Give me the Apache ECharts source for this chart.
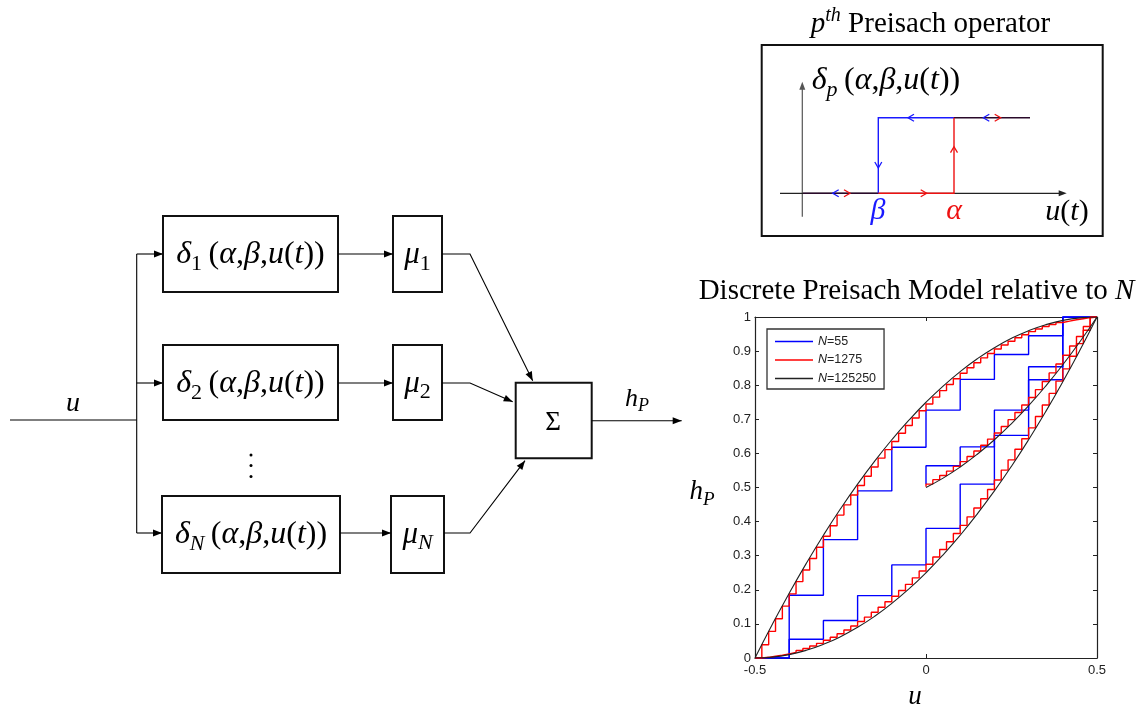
<!DOCTYPE html>
<html lang="en">
<head>
    <meta charset="UTF-8">
    <title>Discrete Preisach model</title>
    <script src="https://cdn.jsdelivr.net/npm/echarts@6.0.0/dist/echarts.min.js"></script>
    <style>
        body { margin: 0; background: #fff; }
        #main { width: 1140px; height: 714px; }
    </style>
</head>
<body>
<div id="main"></div>
<script>
    // ---- data ----
    // N=55 (10 levels): value on each interval [u_i, u_i+1], last value repeated to close the step
    var uBlue = [-0.5, -0.4, -0.3, -0.2, -0.1, 0, 0.1, 0.2, 0.3, 0.4, 0.5];
    var blueUp = [0, 0.055, 0.11, 0.183, 0.273, 0.38, 0.51, 0.653, 0.816, 1.0, 1.0];
    var blueDown = [0, 0.184, 0.347, 0.49, 0.618, 0.727, 0.817, 0.89, 0.945, 1.0, 1.0];
    var uBlueIn = [0, 0, 0.1, 0.2, 0.3, 0.4, 0.5];
    var blueIn = [0.51, 0.564, 0.619, 0.727, 0.854, 1.0, 1.0];

    // N=1275 (50 levels)
    var uRed = [-0.5, -0.48, -0.46, -0.44, -0.42, -0.4, -0.38, -0.36, -0.34, -0.32,
        -0.3, -0.28, -0.26, -0.24, -0.22, -0.2, -0.18, -0.16, -0.14, -0.12,
        -0.1, -0.08, -0.06, -0.04, -0.02, 0, 0.02, 0.04, 0.06, 0.08,
        0.1, 0.12, 0.14, 0.16, 0.18, 0.2, 0.22, 0.24, 0.26, 0.28,
        0.3, 0.32, 0.34, 0.36, 0.38, 0.4, 0.42, 0.44, 0.46, 0.48, 0.5];
    var redUp = [0, 0.002, 0.005, 0.008, 0.012, 0.016, 0.022, 0.028, 0.035, 0.043,
        0.052, 0.061, 0.071, 0.082, 0.094, 0.107, 0.120, 0.134, 0.149, 0.165,
        0.181, 0.198, 0.216, 0.235, 0.255, 0.275, 0.296, 0.318, 0.341, 0.365,
        0.389, 0.414, 0.440, 0.467, 0.494, 0.522, 0.551, 0.581, 0.612, 0.643,
        0.675, 0.708, 0.742, 0.776, 0.812, 0.848, 0.885, 0.922, 0.961, 1.0, 1.0];
    var redDown = [0, 0.039, 0.078, 0.115, 0.152, 0.188, 0.224, 0.258, 0.292, 0.325,
        0.357, 0.388, 0.419, 0.449, 0.478, 0.506, 0.533, 0.560, 0.586, 0.611,
        0.635, 0.659, 0.682, 0.704, 0.725, 0.745, 0.765, 0.784, 0.802, 0.819,
        0.835, 0.851, 0.866, 0.880, 0.893, 0.906, 0.918, 0.929, 0.939, 0.948,
        0.957, 0.965, 0.972, 0.978, 0.984, 0.988, 0.992, 0.995, 0.998, 1.0, 1.0];
    var uRedIn = [0, 0, 0.02, 0.04, 0.06, 0.08, 0.1, 0.12, 0.14, 0.16, 0.18, 0.2, 0.22,
        0.24, 0.26, 0.28, 0.3, 0.32, 0.34, 0.36, 0.38, 0.4, 0.42, 0.44, 0.46, 0.48, 0.5];
    var redIn = [0.502, 0.51, 0.523, 0.535, 0.548, 0.562, 0.576, 0.591, 0.607, 0.624,
        0.642, 0.660, 0.679, 0.699, 0.720, 0.742, 0.764, 0.787, 0.811, 0.836,
        0.862, 0.888, 0.915, 0.943, 0.972, 1.0, 1.0];

    // N=125250 (practically smooth)
    var uBlack = [-0.5, -0.45, -0.4, -0.35, -0.3, -0.25, -0.2, -0.15, -0.1, -0.05, 0,
        0.05, 0.1, 0.15, 0.2, 0.25, 0.3, 0.35, 0.4, 0.45, 0.5];
    var blackUp = [0, 0.0025, 0.01, 0.0225, 0.04, 0.0625, 0.09, 0.1225, 0.16, 0.2025, 0.25,
        0.3025, 0.36, 0.4225, 0.49, 0.5625, 0.64, 0.7225, 0.81, 0.9025, 1.0];
    var blackDown = [0, 0.0975, 0.19, 0.2775, 0.36, 0.4375, 0.51, 0.5775, 0.64, 0.6975, 0.75,
        0.7975, 0.84, 0.8775, 0.91, 0.9375, 0.96, 0.9775, 0.99, 0.9975, 1.0];
    var uBlackIn = [0, 0.05, 0.1, 0.15, 0.2, 0.25, 0.3, 0.35, 0.4, 0.45, 0.5];
    var blackIn = [0.5, 0.5275, 0.56, 0.5975, 0.64, 0.6875, 0.74, 0.7975, 0.86, 0.9275, 1.0];

    var legendNames = ['N=55', 'N=1275', 'N=125250'];
    var xTicks = {min: -0.5, max: 0.5, interval: 0.5};
    var yTicks = {min: 0, max: 1, interval: 0.1};

    // ---- helpers for the drawing parts ----
    function pair(us, vs) {
        return us.map(function (u, i) { return [u, vs[i]]; });
    }

    var ctx = document.createElement('canvas').getContext('2d');
    var SERIF = '"Liberation Serif", "Times New Roman", serif';

    // parts: [text, kind]  kind: r / i / sub / subi / supi
    function mathText(x, base, parts, size, color, anchor) {
        var items = [], total = 0;
        parts.forEach(function (p) {
            var k = p[1];
            var small = k.indexOf('sub') === 0 || k.indexOf('sup') === 0;
            var s = small ? Math.round(size * 0.7) : size;
            var ital = (k === 'i' || k === 'subi' || k === 'supi');
            var f = (ital ? 'italic ' : '') + s + 'px ' + SERIF;
            ctx.font = f;
            var w = ctx.measureText(p[0]).width;
            var dy = k.indexOf('sub') === 0 ? size * 0.2 : (k.indexOf('sup') === 0 ? -size * 0.4 : 0);
            items.push({t: p[0], f: f, w: w, dy: dy, s: s});
            total += w;
        });
        var cx = anchor === 'left' ? x : x - total / 2;
        return items.map(function (it) {
            var el = {
                type: 'text', x: cx, y: base + it.dy - 0.3 * it.s, silent: true,
                style: {text: it.t, font: it.f, fill: color || '#000', align: 'left', verticalAlign: 'middle'}
            };
            cx += it.w;
            return el;
        });
    }

    function seg(x1, y1, x2, y2, w, c) {
        return {type: 'line', silent: true, shape: {x1: x1, y1: y1, x2: x2, y2: y2},
            style: {stroke: c || '#000', lineWidth: w || 1.2}};
    }

    function poly(points, w, c) {
        return {type: 'polyline', silent: true, shape: {points: points},
            style: {stroke: c || '#000', lineWidth: w || 1.2, fill: null}};
    }

    function box(x, y, w, h, lw) {
        return {type: 'rect', silent: true, shape: {x: x, y: y, width: w, height: h},
            style: {fill: 'none', stroke: '#111', lineWidth: lw || 2}};
    }

    // filled arrow head, tip at (tx,ty), coming from (fx,fy)
    function head(tx, ty, fx, fy, c, L, W) {
        L = L || 9; W = W || 3.5;
        var a = Math.atan2(ty - fy, tx - fx);
        var bx = tx - L * Math.cos(a), by = ty - L * Math.sin(a);
        return {type: 'polygon', silent: true, shape: {points: [[tx, ty],
            [bx + W * Math.sin(a), by - W * Math.cos(a)], [bx - W * Math.sin(a), by + W * Math.cos(a)]]},
            style: {fill: c || '#000'}};
    }

    // open chevron, tip at (tx,ty) pointing along angle a (radians)
    function chev(tx, ty, a, c) {
        var L = 6, W = 3.5;
        var bx = tx - L * Math.cos(a), by = ty - L * Math.sin(a);
        return poly([[bx + W * Math.sin(a), by - W * Math.cos(a)], [tx, ty],
            [bx - W * Math.sin(a), by + W * Math.cos(a)]], 1.3, c);
    }

    function arrow(x1, y1, x2, y2) {
        return [seg(x1, y1, x2, y2, 1.1), head(x2, y2, x1, y1)];
    }

    function deltaParts(sub, subKind) {
        return [['δ', 'i'], [sub, subKind], ['\u2009(', 'r'], ['α', 'i'], [',', 'r'], ['β', 'i'], [',', 'r'],
            ['u', 'i'], ['(', 'r'], ['t', 'i'], ['))', 'r']];
    }

    // ---- block diagram ----
    var g = [];
    g.push(seg(10, 420, 136.7, 420, 1.1));
    g = g.concat(mathText(73, 412, [['u', 'i']], 28));
    g.push(seg(136.7, 254, 136.7, 533, 1.1));
    g = g.concat(arrow(136.7, 254, 163, 254), arrow(136.7, 383, 163, 383), arrow(136.7, 533, 162, 533));

    g.push(box(163, 216, 175, 76), box(163, 345, 175, 75), box(162, 496, 178, 77));
    g.push(box(393, 216, 49, 76), box(393, 345, 49, 75), box(391, 496, 53, 77));
    g = g.concat(mathText(250.5, 264.5, deltaParts('1', 'sub'), 32));
    g = g.concat(mathText(250.5, 393, deltaParts('2', 'sub'), 32));
    g = g.concat(mathText(251, 544, deltaParts('N', 'subi'), 32));
    g = g.concat(mathText(417.5, 264.5, [['μ', 'i'], ['1', 'sub']], 31));
    g = g.concat(mathText(417.5, 393, [['μ', 'i'], ['2', 'sub']], 31));
    g = g.concat(mathText(417.5, 544, [['μ', 'i'], ['N', 'subi']], 31));
    [455, 465.5, 476.5].forEach(function (y) {
        g.push({type: 'circle', silent: true, shape: {cx: 251, cy: y, r: 1.5}, style: {fill: '#000'}});
    });

    g = g.concat(arrow(338, 254, 393, 254), arrow(338, 383, 393, 383), arrow(340, 533, 391, 533));
    g.push(poly([[442, 254], [470, 254], [532.7, 380.7]], 1.1), head(532.7, 380.7, 470, 254));
    g.push(poly([[442, 383], [470, 383], [512.7, 401.7]], 1.1), head(512.7, 401.7, 470, 383));
    g.push(poly([[444, 533], [470, 533], [525, 460.7]], 1.1), head(525, 460.7, 470, 533));
    g.push(box(515.7, 382.7, 76, 75.6));
    g = g.concat(mathText(553, 431, [['Σ', 'r']], 27));
    g = g.concat(arrow(591.7, 420.7, 681.7, 420.7));
    g = g.concat(mathText(637, 406.5, [['h', 'i'], ['P', 'subi']], 26));

    // ---- Preisach operator sketch ----
    g = g.concat(mathText(930.5, 33, [['p', 'i'], ['th', 'supi'], [' Preisach operator', 'r']], 29));
    g.push(box(761.7, 45, 341, 191));
    g.push(seg(802.3, 216.7, 802.3, 86, 1.2, '#555'), head(802.3, 81.7, 802.3, 100, '#555', 8, 3));
    g.push(seg(780, 193.3, 1062, 193.3, 1.2, '#222'), head(1066.7, 193.3, 1040, 193.3, '#222', 8, 3));
    g.push(seg(803, 193.3, 878.3, 193.3, 1.6, '#2a0a2a'));
    g.push(seg(954, 117.7, 1030, 117.7, 1.6, '#2a0a2a'));
    g.push(poly([[954, 117.7], [878.3, 117.7], [878.3, 193.3]], 1.4, '#1a1aff'));
    g.push(poly([[878.3, 193.3], [954, 193.3], [954, 117.7]], 1.4, '#ee1111'));
    g.push(chev(908, 117.7, Math.PI, '#1a1aff'), chev(878.3, 168, Math.PI / 2, '#1a1aff'));
    g.push(chev(954, 146.7, -Math.PI / 2, '#ee1111'), chev(926.7, 193.3, 0, '#ee1111'));
    g.push(chev(832.7, 193.3, Math.PI, '#1a1aff'), chev(850, 193.3, 0, '#ee1111'));
    g.push(chev(983.3, 117.7, Math.PI, '#1a1aff'), chev(1000.7, 117.7, 0, '#ee1111'));
    g = g.concat(mathText(811.7, 90, deltaParts('p', 'subi'), 32, '#000', 'left'));
    g = g.concat(mathText(878, 220, [['β', 'i']], 30, '#1a1aff'));
    g = g.concat(mathText(954, 220, [['α', 'i']], 30, '#ee1111'));
    g = g.concat(mathText(1067, 221, [['u', 'i'], ['(', 'r'], ['t', 'i'], [')', 'r']], 30));

    // ---- labels of the hysteresis plot ----
    g = g.concat(mathText(916.5, 300, [['Discrete Preisach Model relative to ', 'r'], ['N', 'i']], 29));
    g = g.concat(mathText(702, 500, [['h', 'i'], ['P', 'subi']], 27));
    g = g.concat(mathText(915, 705, [['u', 'i']], 27));

    // ---- chart ----
    var myChart = echarts.init(document.getElementById('main'), null, {renderer: 'canvas'});

    function stepSeries(name, us, vs, color) {
        return {name: name, type: 'line', step: 'end', data: pair(us, vs), showSymbol: false,
            lineStyle: {color: color, width: 1.4}, itemStyle: {color: color}, silent: true};
    }

    function smoothSeries(name, us, vs) {
        return {name: name, type: 'line', smooth: true, data: pair(us, vs),
            showSymbol: false, lineStyle: {color: '#222', width: 1.1}, itemStyle: {color: '#222'}, silent: true};
    }

    var axisLine = {show: true, onZero: false, lineStyle: {color: '#222', width: 1.2}};
    var axisTick = {show: true, inside: true, length: 4, lineStyle: {color: '#222', width: 1}};
    var tickLabel = {fontFamily: '"Liberation Sans", Arial, sans-serif', fontSize: 13, color: '#222'};
    var legendFont = '"Liberation Sans", Arial, sans-serif';

    var option = {
        animation: false,
        backgroundColor: '#fff',
        grid: {left: 755, top: 317, width: 342, height: 341, containLabel: false, outerBoundsMode: 'none'},
        legend: {
            data: legendNames,
            left: 767, top: 329,
            orient: 'vertical',
            icon: 'rect',
            itemWidth: 38, itemHeight: 1.6,
            itemGap: 5.5,
            padding: [6, 8, 4, 8],
            borderColor: '#333', borderWidth: 1.3,
            selectedMode: false,
            formatter: function (name) { return '{i|N}{r|' + name.slice(1) + '}'; },
            textStyle: {
                fontSize: 12.5, color: '#222', fontFamily: legendFont,
                rich: {
                    i: {fontStyle: 'italic', fontSize: 12.5, color: '#222', fontFamily: legendFont},
                    r: {fontSize: 12.5, color: '#222', fontFamily: legendFont}
                }
            }
        },
        xAxis: [
            {type: 'value', min: xTicks.min, max: xTicks.max, interval: xTicks.interval, position: 'bottom',
                axisLine: axisLine, axisTick: axisTick, splitLine: {show: false},
                axisLabel: Object.assign({margin: 6}, tickLabel)},
            {type: 'value', min: xTicks.min, max: xTicks.max, interval: xTicks.interval, position: 'top',
                axisLine: axisLine, axisTick: axisTick, splitLine: {show: false}, axisLabel: {show: false}}
        ],
        yAxis: [
            {type: 'value', min: yTicks.min, max: yTicks.max, interval: yTicks.interval, position: 'left',
                axisLine: axisLine, axisTick: axisTick, splitLine: {show: false},
                axisLabel: Object.assign({margin: 4}, tickLabel)},
            {type: 'value', min: yTicks.min, max: yTicks.max, interval: yTicks.interval, position: 'right',
                axisLine: axisLine, axisTick: axisTick, splitLine: {show: false}, axisLabel: {show: false}}
        ],
        series: [
            stepSeries(legendNames[0], uBlue, blueUp, '#0000ff'),
            stepSeries(legendNames[0], uBlue, blueDown, '#0000ff'),
            stepSeries(legendNames[0], uBlueIn, blueIn, '#0000ff'),
            stepSeries(legendNames[1], uRed, redUp, '#ff0000'),
            stepSeries(legendNames[1], uRed, redDown, '#ff0000'),
            stepSeries(legendNames[1], uRedIn, redIn, '#ff0000'),
            smoothSeries(legendNames[2], uBlack, blackUp),
            smoothSeries(legendNames[2], uBlack, blackDown),
            smoothSeries(legendNames[2], uBlackIn, blackIn)
        ],
        graphic: {elements: g}
    };
    myChart.setOption(option);
</script>
</body>
</html>
